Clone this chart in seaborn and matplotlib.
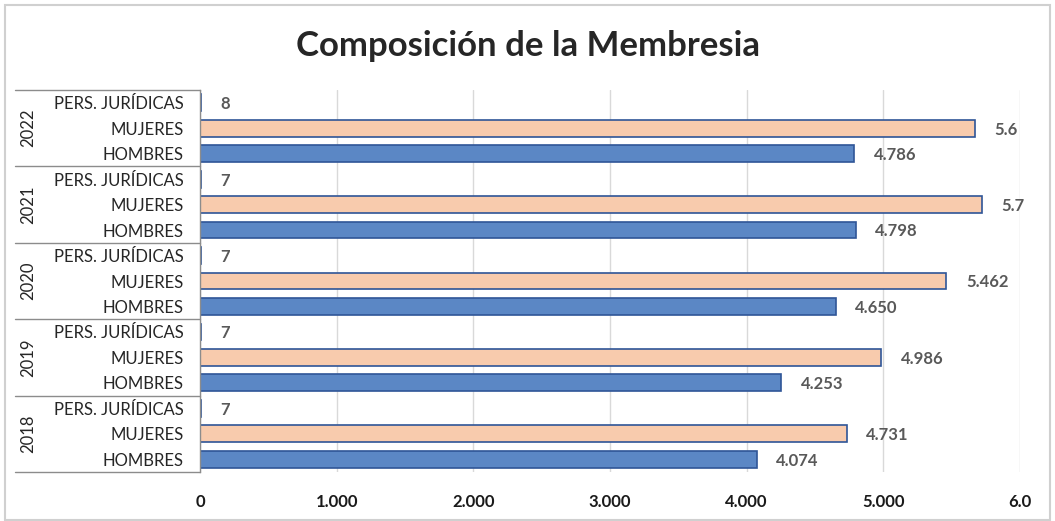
import matplotlib
matplotlib.use("Agg")
import matplotlib.pyplot as plt
import seaborn as sns
import pandas as pd
from matplotlib.lines import Line2D
from matplotlib.patches import Rectangle

years = ["2022", "2021", "2020", "2019", "2018"]
categories = ["PERS. JURÍDICAS", "MUJERES", "HOMBRES"]
pers_juridicas = [8, 7, 7, 7, 7]
mujeres = [5671, 5723, 5462, 4986, 4731]
hombres = [4786, 4798, 4650, 4253, 4074]
mujeres_labels = ["5.6", "5.7", "5.462", "4.986", "4.731"]
hombres_labels = ["4.786", "4.798", "4.650", "4.253", "4.074"]
pj_labels = ["8", "7", "7", "7", "7"]
x_ticks = [0, 1000, 2000, 3000, 4000, 5000, 6000]
x_tick_labels = ["0", "1.000", "2.000", "3.000", "4.000", "5.000", "6.0"]

rows = []
for i, y in enumerate(years):
    for cat, vals, labs in zip(categories, [pers_juridicas, mujeres, hombres],
                               [pj_labels, mujeres_labels, hombres_labels]):
        rows.append({"key": f"{y}|{cat}", "year": y, "cat": cat,
                     "value": vals[i], "label": labs[i]})
df = pd.DataFrame(rows)
order = list(df["key"])

sns.set_theme(style="white")
plt.rcParams["font.family"] = ["Lato", "DejaVu Sans"]

fig = plt.figure(figsize=(10.55, 5.21), dpi=100)
ax = fig.add_axes([200 / 1055, 1 - 472 / 521, 820 / 1055, 382 / 521])

palette = {"PERS. JURÍDICAS": "#5B87C5", "MUJERES": "#F8CBAD", "HOMBRES": "#5B87C5"}
sns.barplot(data=df, y="key", x="value", hue="cat", order=order, palette=palette,
            dodge=False, orient="h", width=0.66, legend=False, saturation=1, ax=ax)
for p in ax.patches:
    p.set_edgecolor("#2F5597")
    p.set_linewidth(1.2)

ax.set_xlim(0, 6000)
ax.set_ylim(len(order) - 0.5, -0.5)
ax.set_xticks(x_ticks)
ax.set_xticklabels(x_tick_labels, fontsize=12, fontweight="bold", color="#1a1a1a")
ax.tick_params(axis="x", length=0, pad=16)
ax.set_yticks(range(len(order)))
ax.set_yticklabels(list(df["cat"]), fontsize=12, color="#262626")
ax.tick_params(axis="y", length=0, pad=12)
ax.set_xlabel("")
ax.set_ylabel("")
ax.xaxis.grid(True, color="#D9D9D9", linewidth=1)
ax.set_axisbelow(True)
for s in ["top", "right", "bottom"]:
    ax.spines[s].set_visible(False)
ax.spines["left"].set_color("#8c8c8c")
ax.spines["left"].set_linewidth(1)

for i, r in df.iterrows():
    ax.annotate(r["label"], xy=(r["value"], i), xytext=(14, -1),
                textcoords="offset points", va="center", ha="left",
                fontsize=12, fontweight="bold", color="#595959")

# category group separators and year labels
x0 = 15 / 1055
x1 = 200 / 1055
for g in range(len(years) + 1):
    yd = g * 3 - 0.5
    yf = fig.transFigure.inverted().transform(ax.transData.transform((0, yd)))[1]
    fig.add_artist(Line2D([x0, x1], [yf, yf], color="#8c8c8c", linewidth=1,
                          transform=fig.transFigure))
for g, y in enumerate(years):
    yc = g * 3 + 1
    yf = fig.transFigure.inverted().transform(ax.transData.transform((0, yc)))[1]
    fig.text(28 / 1055, yf, y, rotation=90, ha="center", va="center",
             fontsize=12, color="#262626")

fig.text(0.5, 1 - 46 / 521, "Composición de la Membresia", ha="center", va="center",
         fontsize=25, fontweight="bold", color="#262626")

fig.add_artist(Rectangle((5 / 1055, 0.002), 1045 / 1055, 1 - 5 / 521 - 0.002,
                         transform=fig.transFigure, fill=False,
                         edgecolor="#D0D0D0", linewidth=1.5))

fig.savefig("out.png", dpi=100, facecolor="white")
